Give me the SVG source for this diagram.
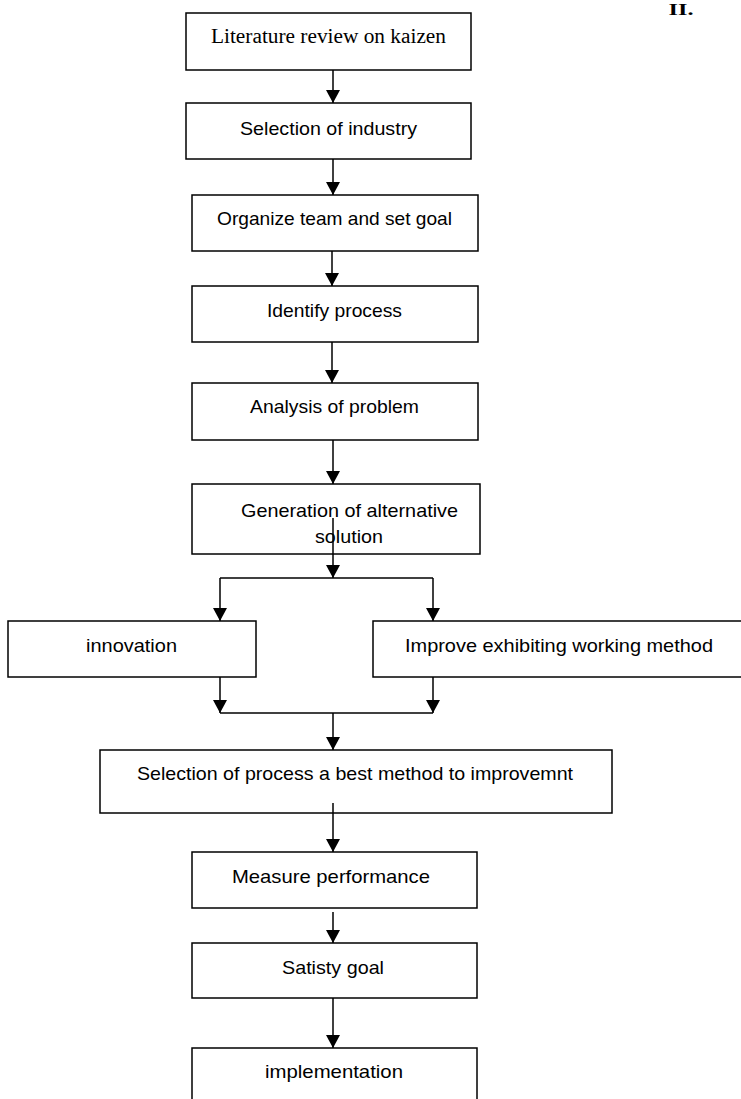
<svg xmlns="http://www.w3.org/2000/svg" width="741" height="1099" viewBox="0 0 741 1099">
<style>
.box{fill:#fff;stroke:#000;stroke-width:1.5}
.t{font-family:"Liberation Sans",Arial,sans-serif;font-size:19px;fill:#000;text-anchor:middle}
.s{font-family:"Liberation Serif","Times New Roman",serif;font-size:20px;fill:#000;text-anchor:middle}
.c{fill:none;stroke:#000;stroke-width:1.5}
</style>
<defs>
<marker id="ah" markerUnits="userSpaceOnUse" markerWidth="13" markerHeight="14" refX="13" refY="7" orient="auto">
<path d="M0,0 L13,7 L0,14 z" fill="#000"/>
</marker>
</defs>
<text x="681" y="15" font-family="Liberation Serif,serif" font-weight="bold" font-size="16" text-anchor="middle" textLength="25" lengthAdjust="spacingAndGlyphs">II.</text>
<g id="n1"><rect class="box" x="186" y="13" width="285" height="57"/><text class="s" x="328.5" y="43" textLength="235" lengthAdjust="spacingAndGlyphs">Literature review on kaizen</text></g>
<g id="n2"><rect class="box" x="186" y="103" width="285" height="56"/><text class="t" x="328.5" y="135" textLength="177" lengthAdjust="spacingAndGlyphs">Selection of industry</text></g>
<g id="n3"><rect class="box" x="192" y="195" width="286" height="56"/><text class="t" x="334.5" y="225" textLength="235" lengthAdjust="spacingAndGlyphs">Organize team and set goal</text></g>
<g id="n4"><rect class="box" x="192" y="286" width="286" height="56"/><text class="t" x="334.5" y="317" textLength="135" lengthAdjust="spacingAndGlyphs">Identify process</text></g>
<g id="n5"><rect class="box" x="192" y="383" width="286" height="57"/><text class="t" x="334.5" y="413" textLength="169" lengthAdjust="spacingAndGlyphs">Analysis of problem</text></g>
<g id="n6"><rect class="box" x="192" y="484" width="288" height="70"/><text class="t" x="349.5" y="517" textLength="217" lengthAdjust="spacingAndGlyphs">Generation of alternative</text><text class="t" x="349" y="543" textLength="68" lengthAdjust="spacingAndGlyphs">solution</text></g>
<g id="n7"><rect class="box" x="8" y="621" width="248" height="56"/><text class="t" x="131.5" y="652" textLength="91" lengthAdjust="spacingAndGlyphs">innovation</text></g>
<g id="n8"><rect class="box" x="373" y="621" width="370" height="56"/><text class="t" x="559" y="652" textLength="308" lengthAdjust="spacingAndGlyphs">Improve exhibiting working method</text></g>
<g id="n9"><rect class="box" x="100" y="750" width="512" height="63"/><text class="t" x="355" y="780" textLength="436" lengthAdjust="spacingAndGlyphs">Selection of process a best method to improvemnt</text></g>
<g id="n10"><rect class="box" x="192" y="852" width="285" height="56"/><text class="t" x="331" y="883" textLength="198" lengthAdjust="spacingAndGlyphs">Measure performance</text></g>
<g id="n11"><rect class="box" x="192" y="943" width="285" height="55"/><text class="t" x="333" y="974" textLength="102" lengthAdjust="spacingAndGlyphs">Satisty  goal</text></g>
<g id="n12"><rect class="box" x="192" y="1048" width="285" height="60"/><text class="t" x="334" y="1078" textLength="138" lengthAdjust="spacingAndGlyphs">implementation</text></g>
<g id="connectors">
<line class="c" x1="333" y1="70" x2="333" y2="103" marker-end="url(#ah)"/>
<line class="c" x1="333" y1="159" x2="333" y2="195" marker-end="url(#ah)"/>
<line class="c" x1="332" y1="251" x2="332" y2="286" marker-end="url(#ah)"/>
<line class="c" x1="332" y1="342" x2="332" y2="383" marker-end="url(#ah)"/>
<line class="c" x1="333" y1="440" x2="333" y2="484" marker-end="url(#ah)"/>
<line class="c" x1="333" y1="518" x2="333" y2="578" marker-end="url(#ah)"/>
<line class="c" x1="220" y1="578" x2="433" y2="578"/>
<line class="c" x1="220" y1="578" x2="220" y2="621" marker-end="url(#ah)"/>
<line class="c" x1="433" y1="578" x2="433" y2="621" marker-end="url(#ah)"/>
<line class="c" x1="220" y1="677" x2="220" y2="713" marker-end="url(#ah)"/>
<line class="c" x1="433" y1="677" x2="433" y2="713" marker-end="url(#ah)"/>
<line class="c" x1="220" y1="713" x2="433" y2="713"/>
<line class="c" x1="333" y1="713" x2="333" y2="750" marker-end="url(#ah)"/>
<line class="c" x1="333" y1="803" x2="333" y2="852" marker-end="url(#ah)"/>
<line class="c" x1="333" y1="912" x2="333" y2="943" marker-end="url(#ah)"/>
<line class="c" x1="333" y1="998" x2="333" y2="1048" marker-end="url(#ah)"/>
</g>
</svg>
